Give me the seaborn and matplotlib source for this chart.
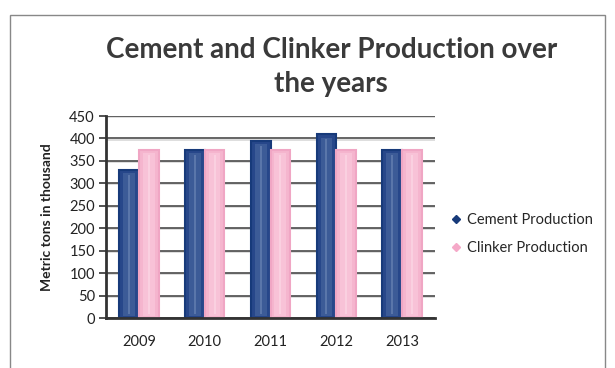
import matplotlib
matplotlib.use("Agg")
import matplotlib.pyplot as plt
import seaborn as sns
import pandas as pd
from matplotlib.patches import Rectangle
from matplotlib.lines import Line2D

years = ["2009", "2010", "2011", "2012", "2013"]
cement = [330, 375, 395, 410, 375]
clinker = [375, 375, 375, 375, 375]
series = ["Cement Production", "Clinker Production"]
yticks = [0, 50, 100, 150, 200, 250, 300, 350, 400, 450]

df = pd.DataFrame({
    "Year": years * 2,
    "Value": cement + clinker,
    "Series": [series[0]] * len(years) + [series[1]] * len(years),
})

sns.set_theme(style="white")
plt.rcParams['font.family'] = ['Lato', 'DejaVu Sans']

fig = plt.figure(figsize=(6.15, 3.68), dpi=100)
ax = fig.add_axes([106/615, 1 - 318/368, (435-106)/615, (318-116)/368])

face = {"Cement Production": "#27478A", "Clinker Production": "#F5B5CE"}
edge = {"Cement Production": "#173A7A", "Clinker Production": "#F0A6C4"}
sns.barplot(data=df, x="Year", y="Value", hue="Series", palette=face,
            width=0.6, ax=ax, legend=False, saturation=1, zorder=3)

# style bars: border and lighter inner panel
for i, p in enumerate(ax.patches[:10]):
    s = series[0] if i < 5 else series[1]
    p.set_edgecolor(edge[s])
    p.set_linewidth(1.5)
    x, y = p.get_x(), p.get_y()
    w, h = p.get_width(), p.get_height()
    inner = "#3C5B97" if s == series[0] else "#F8C2D7"
    ax.add_patch(Rectangle((x + w*0.2, y + 4), w*0.6, h - 12,
                           facecolor=inner, edgecolor="none", zorder=4))
    ax.add_patch(Rectangle((x + w*0.45, y + 8), w*0.1, h - 20,
                           facecolor="#5A76AA" if s == series[0] else "#FAD0E0",
                           edgecolor="none", zorder=5))

ax.set_ylim(0, 450)
ax.set_yticks(yticks)
ax.set_xlim(-0.5, 4.5)
for t in yticks:
    ax.axhline(t - 2.5, color="#D8D8D8", lw=1.2, zorder=1)
    ax.axhline(t, color="#4A4A4A", lw=1.2, zorder=2)
for s in ["top", "right"]:
    ax.spines[s].set_visible(False)
ax.spines["left"].set_color("#333333")
ax.spines["left"].set_linewidth(2)
ax.spines["bottom"].set_color("#333333")
ax.spines["bottom"].set_linewidth(2)
ax.spines["left"].set_zorder(6)
ax.spines["bottom"].set_zorder(6)
ax.tick_params(axis="y", length=5, width=1.2, color="#333333", labelsize=10.5,
               labelcolor="#222222", pad=3, left=True)
ax.tick_params(axis="x", length=0, labelsize=10.5, labelcolor="#222222", pad=12)
ax.set_xlabel("")
ax.set_ylabel("Metric tons in thousand", fontsize=10, fontweight="bold",
              color="#222222", labelpad=12)

fig.text(332/615, 1 - 50/368,
         "Cement and Clinker Production over", ha="center", va="center",
         fontsize=20, fontweight="bold", color="#3A3A3A")
fig.text(331/615, 1 - 84/368, "the years", ha="center", va="center",
         fontsize=20, fontweight="bold", color="#3A3A3A")

handles = [Line2D([], [], marker="D", ls="none", color="#173A7A", markersize=4),
           Line2D([], [], marker="D", ls="none", color="#F5A9C8", markersize=4)]
fig.legend(handles, series, loc="center left", bbox_to_anchor=(436/615, 1 - 234/368),
           frameon=False, fontsize=10.5, handletextpad=0.2, labelspacing=1.0,
           handlelength=1)

fig.add_artist(Rectangle((10/615, -0.05), 595/615, 1 - 15/368 + 0.05,
                         transform=fig.transFigure, fill=False,
                         edgecolor="#888888", lw=1))

fig.savefig("out.png", dpi=100)
